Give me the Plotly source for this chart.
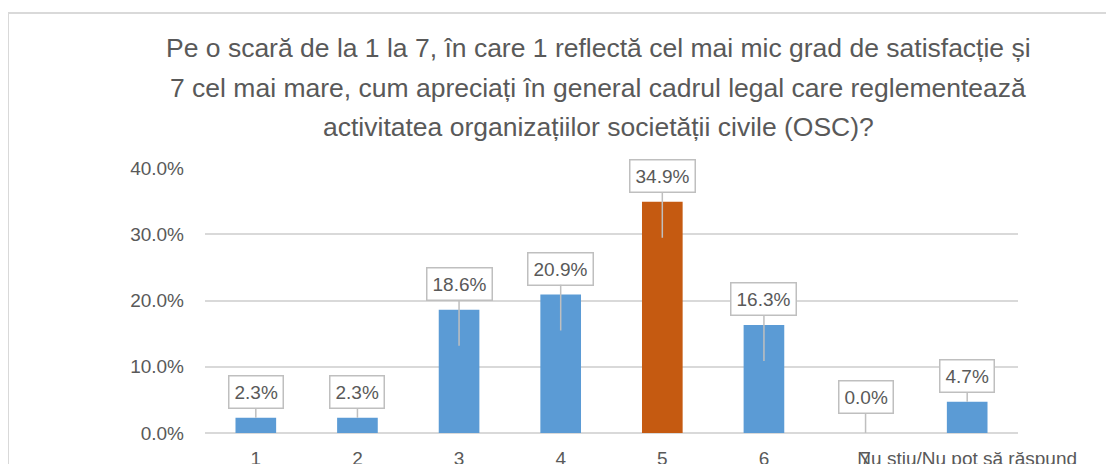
import plotly.graph_objects as go

categories = ["1", "2", "3", "4", "5", "6", "7", "Nu știu/Nu pot să răspund"]
values = [0.023, 0.023, 0.186, 0.209, 0.349, 0.163, 0.0, 0.047]
value_labels = ["2.3%", "2.3%", "18.6%", "20.9%", "34.9%", "16.3%", "0.0%", "4.7%"]
highlight = "5"

title_lines = [
    "Pe o scară de la 1 la 7, în care 1 reflectă cel mai mic grad de satisfacție și",
    "7 cel mai mare, cum apreciați în general cadrul legal care reglementează",
    "activitatea organizațiilor societății civile (OSC)?",
]
y_ticks = [0.0, 0.1, 0.2, 0.3, 0.4]
y_tick_text = ["0.0%", "10.0%", "20.0%", "30.0%", "40.0%"]

BLUE = "#5B9BD5"
ORANGE = "#C55A11"
GREY_TXT = "#595959"
GRID = "#D9D9D9"
BOX = "#BFBFBF"
FONT = "Liberation Sans, Arial, sans-serif"

colors = [ORANGE if c == highlight else BLUE for c in categories]

fig = go.Figure(
    go.Bar(
        x=categories,
        y=values,
        marker=dict(color=colors, line=dict(width=0)),
        hoverinfo="skip",
    )
)

annotations = []
for i, (v, t) in enumerate(zip(values, value_labels)):
    if v > 0.1:
        yshift, ay = -36, -62
    elif v == 0:
        yshift, ay = 0, -36
    else:
        yshift, ay = 0, -26
    annotations.append(
        dict(
            x=i, y=v, xref="x", yref="y", text=t,
            showarrow=True, arrowhead=0, arrowwidth=1.5, arrowcolor=BOX,
            ax=0, ay=ay, yshift=yshift,
            bgcolor="white", bordercolor=BOX, borderwidth=1.5, borderpad=5,
            font=dict(family=FONT, size=19, color=GREY_TXT),
        )
    )

# title lines (paper coordinates, centred over the chart)
for line, ypos in zip(title_lines, [1.4528, 1.3019, 1.1547]):
    annotations.append(
        dict(
            x=0.4835, y=ypos, xref="paper", yref="paper",
            xanchor="center", yanchor="middle", showarrow=False,
            text=line, font=dict(family=FONT, size=26.5, color=GREY_TXT),
        )
    )

# the page body adds an 8px offset; the figure is sized to fill the rest
fig.update_layout(
    width=1106,
    height=456,
    margin=dict(l=197, r=96, t=160, b=31, autoexpand=False),
    paper_bgcolor="white",
    plot_bgcolor="white",
    showlegend=False,
    bargap=0.6,
    annotations=annotations,
    shapes=[
        dict(type="rect", xref="paper", yref="paper",
             x0=-0.2423, x1=1.14, y0=-0.5, y1=1.585,
             line=dict(color=GRID, width=2), fillcolor="rgba(0,0,0,0)", layer="below"),
    ],
    xaxis=dict(
        type="category",
        automargin=False,
        tickangle=0,
        tickfont=dict(family=FONT, size=19, color=GREY_TXT),
        ticklabelstandoff=12,
        showgrid=False,
        showline=False,
        zeroline=False,
        ticks="",
    ),
    yaxis=dict(
        automargin=False,
        range=[0, 0.4],
        tickvals=y_ticks,
        ticktext=y_tick_text,
        tickfont=dict(family=FONT, size=19, color=GREY_TXT),
        ticklabelstandoff=20,
        showgrid=True,
        gridcolor=GRID,
        gridwidth=1.5,
        zeroline=True,
        zerolinecolor=GRID,
        zerolinewidth=1.5,
        showline=False,
        ticks="",
    ),
)

fig.write_html("out.html", config={"displayModeBar": False})
